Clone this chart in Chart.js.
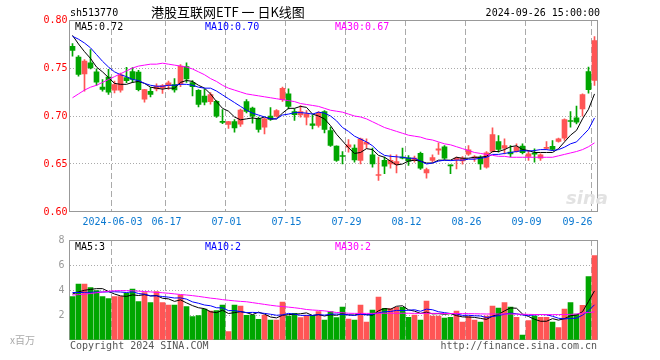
<!DOCTYPE html>
<html><head><meta charset="utf-8">
<script src="https://cdn.jsdelivr.net/npm/chart.js@4.4.0/dist/chart.umd.min.js"></script>
<style>
html,body{margin:0;padding:0;background:#fff;}
#wrap{position:relative;width:660px;height:360px;overflow:hidden;font-family:"DejaVu Sans Mono",monospace;font-size:10px;color:#000;}
canvas{position:absolute;left:0;top:0;}
.t{position:absolute;white-space:pre;line-height:12px;}
</style></head><body>
<div id="wrap">
<canvas id="pc" width="660" height="360"></canvas>
<canvas id="vc" width="660" height="360"></canvas>
<div class="t" style="left:70px;top:7px;">sh513770</div>
<div class="t" style="left:151px;top:4px;font-family:'Noto Sans CJK SC';font-size:13px;line-height:16px;">港股互联网ETF 一 日K线图</div>
<div class="t" style="right:60px;top:7px;">2024-09-26 15:00:00</div>
<div class="t" style="left:75px;top:21px;">MA5:0.72</div>
<div class="t" style="left:205px;top:21px;color:#0000ff;">MA10:0.70</div>
<div class="t" style="left:335px;top:21px;color:#ff00ff;">MA30:0.67</div>
<div class="t" style="left:75px;top:241px;">MA5:3</div>
<div class="t" style="left:205px;top:241px;color:#0000ff;">MA10:2</div>
<div class="t" style="left:335px;top:241px;color:#ff00ff;">MA30:2</div>
<div class="t" style="left:70px;top:340px;color:#555;">Copyright 2024 SINA.COM</div>
<div class="t" style="right:63px;top:340px;color:#555;">http://finance.sina.com.cn</div>
<div class="t" style="left:10px;top:334px;color:#aaa;font-family:'Noto Sans CJK SC';">x百万</div>
<div class="t" style="left:566px;top:188px;color:#e2e2e2;font-family:'DejaVu Sans';font-size:18px;font-weight:bold;font-style:italic;line-height:20px;">sina</div>
</div>
<script>
const categories = ['05-23','05-24','05-27','05-28','05-29','05-30','05-31',
'06-03','06-04','06-05','06-06','06-07','06-11','06-12','06-13','06-14','06-17','06-18','06-19','06-20','06-21','06-24','06-25','06-26','06-27','06-28',
'07-01','07-02','07-03','07-04','07-05','07-08','07-09','07-10','07-11','07-12','07-15','07-16','07-17','07-18','07-19','07-22','07-23','07-24','07-25','07-26','07-29','07-30','07-31',
'08-01','08-02','08-05','08-06','08-07','08-08','08-09','08-12','08-13','08-14','08-15','08-16','08-19','08-20','08-21','08-22','08-23','08-26','08-27','08-28','08-29','08-30',
'09-02','09-03','09-04','09-05','09-06','09-09','09-10','09-11','09-12','09-13','09-18','09-19','09-20','09-23','09-24','09-25','09-26'];

const opens = [0.7727,0.7613,0.7439,0.7554,0.7460,0.7300,0.7405,0.7269,0.7268,0.7400,
0.7464,0.7458,0.7175,0.7256,0.7283,0.7293,0.7318,0.7326,0.7337,0.7515,
0.7347,0.7268,0.7207,0.7150,0.7153,0.6943,0.6913,0.6941,0.6915,0.7151,
0.7082,0.6970,0.6884,0.6998,0.6998,0.7170,0.7231,0.7045,0.7012,0.6988,
0.6918,0.6901,0.7047,0.6849,0.6686,0.6582,0.6675,0.6665,0.6536,0.6707,
0.6596,0.6380,0.6537,0.6502,0.6492,0.6571,0.6564,0.6537,0.6610,0.6408,
0.6537,0.6644,0.6679,0.6485,0.6544,0.6533,0.6603,0.6561,0.6571,0.6467,
0.6630,0.6734,0.6665,0.6624,0.6630,0.6686,0.6578,0.6606,0.6561,0.6662,
0.6683,0.6734,0.6769,0.6946,0.6981,0.7075,0.7464,0.7370];
const highs = [0.7755,0.7630,0.7589,0.7693,0.7491,0.7380,0.7487,0.7365,0.7447,0.7508,
0.7505,0.7475,0.7278,0.7296,0.7335,0.7328,0.7363,0.7390,0.7535,0.7555,
0.7370,0.7275,0.7280,0.7245,0.7160,0.7068,0.6945,0.6963,0.7072,0.7172,
0.7092,0.6988,0.6977,0.7089,0.7068,0.7300,0.7283,0.7075,0.7109,0.7057,
0.7012,0.7047,0.7057,0.6884,0.6690,0.6630,0.6755,0.6700,0.6769,0.6762,
0.6665,0.6571,0.6571,0.6596,0.6596,0.6665,0.6589,0.6582,0.6623,0.6457,
0.6596,0.6721,0.6693,0.6492,0.6571,0.6578,0.6693,0.6589,0.6585,0.6630,
0.6877,0.6797,0.6762,0.6693,0.6710,0.6710,0.6641,0.6658,0.6606,0.6734,
0.6745,0.6769,0.6970,0.7047,0.7103,0.7231,0.7509,0.7828];
const lows = [0.7623,0.7415,0.7259,0.7491,0.7318,0.7259,0.7224,0.7241,0.7248,0.7348,
0.7348,0.7261,0.7144,0.7198,0.7262,0.7235,0.7276,0.7248,0.7305,0.7350,
0.7210,0.7094,0.7115,0.7123,0.6985,0.6920,0.6870,0.6832,0.6891,0.7033,
0.6925,0.6832,0.6814,0.6953,0.6988,0.7151,0.7075,0.6955,0.6988,0.6908,
0.6866,0.6884,0.6825,0.6682,0.6526,0.6502,0.6623,0.6519,0.6502,0.6665,
0.6467,0.6328,0.6398,0.6457,0.6408,0.6554,0.6485,0.6520,0.6443,0.6353,
0.6519,0.6599,0.6547,0.6398,0.6450,0.6498,0.6589,0.6526,0.6443,0.6457,
0.6623,0.6623,0.6606,0.6575,0.6623,0.6606,0.6537,0.6519,0.6537,0.6651,
0.6641,0.6728,0.6745,0.6884,0.6918,0.6998,0.7238,0.7318];
const closes = [0.7682,0.7432,0.7571,0.7502,0.7352,0.7278,0.7248,0.7326,0.7430,0.7369,
0.7382,0.7275,0.7275,0.7224,0.7311,0.7318,0.7345,0.7271,0.7519,0.7385,
0.7305,0.7120,0.7144,0.7224,0.6998,0.6933,0.6941,0.6875,0.7062,0.7047,
0.6998,0.6859,0.6970,0.6964,0.7057,0.7288,0.7099,0.7015,0.7047,0.7023,
0.6901,0.7033,0.6859,0.6693,0.6537,0.6578,0.6700,0.6543,0.6762,0.6727,
0.6502,0.6391,0.6478,0.6537,0.6526,0.6561,0.6529,0.6561,0.6457,0.6443,
0.6568,0.6658,0.6561,0.6481,0.6561,0.6561,0.6648,0.6575,0.6502,0.6617,
0.6807,0.6651,0.6693,0.6606,0.6675,0.6617,0.6606,0.6603,0.6596,0.6665,
0.6651,0.6762,0.6964,0.6943,0.6936,0.7224,0.7273,0.7786];

const ma5 = [.784,.775,.767,.760,.751,.746,.740,.734,.733,.733,
.735,.736,.734,.730,.729,.728,.729,.729,.735,.737,
.736,.732,.729,.723,.715,.708,.705,.699,.696,.697,
.698,.697,.699,.697,.697,.703,.708,.708,.710,.709,
.702,.700,.697,.690,.681,.674,.667,.661,.662,.666,
.665,.659,.657,.653,.649,.650,.653,.654,.653,.651,
.651,.654,.654,.654,.657,.656,.656,.657,.657,.658,
.663,.663,.665,.668,.669,.665,.664,.662,.662,.662,
.662,.666,.673,.680,.685,.697,.707,.723];
const ma10 = [.783,.780,.776,.771,.764,.757,.751,.746,.743,.741,
.738,.737,.734,.732,.731,.731,.732,.732,.733,.733,
.732,.730,.729,.729,.726,.722,.718,.714,.710,.706,
.703,.701,.699,.697,.697,.701,.702,.7035,.7035,.703,
.702,.704,.703,.700,.695,.688,.684,.679,.676,.673,
.669,.663,.659,.658,.6575,.657,.656,.656,.653,.650,
.651,.653,.654,.6535,.654,.654,.655,.655,.656,.657,
.660,.660,.661,.662,.663,.664,.6635,.664,.665,.665,
.664,.665,.6675,.671,.673,.6795,.686,.698];
const ma30 = [.719,.723,.727,.730,.732,.735,.738,.741,.744,.747,
.750,.752,.753,.754,.754,.755,.754,.753,.752,.751,
.749,.746,.743,.739,.736,.732,.729,.727,.725,.723,
.722,.721,.720,.719,.718,.717,.716,.715,.713,.712,
.711,.710,.708,.706,.705,.704,.702,.700,.699,.697,
.694,.691,.688,.686,.684,.682,.680,.679,.678,.676,
.675,.673,.671,.670,.668,.666,.664,.662,.661,.660,
.659,.658,.658,.657,.657,.657,.657,.657,.657,.657,
.657,.6585,.660,.6615,.663,.665,.668,.672];

const volumes = [3.47,4.48,4.48,4.19,3.95,3.47,3.31,3.47,3.47,3.73,
4.08,3.07,3.79,2.99,3.87,2.99,2.80,2.80,3.60,2.67,
1.87,1.95,2.48,2.32,2.35,2.80,0.67,2.80,2.72,1.97,
2.00,1.65,2.00,1.60,1.60,3.04,1.92,2.13,1.79,1.97,
1.97,2.27,1.60,2.27,1.79,2.64,1.68,1.60,2.80,1.44,
2.40,3.44,2.53,2.51,2.61,2.61,1.81,2.00,1.60,3.12,
1.92,1.92,1.76,1.81,2.32,1.44,1.87,1.60,1.44,1.92,
2.72,2.56,2.99,2.64,1.81,0.40,1.55,1.92,1.81,1.81,
1.44,0.99,2.48,2.99,2.08,2.77,5.07,6.75];
const volMa5 = [3.68,3.85,3.98,4.05,4.11,4.11,3.88,3.68,3.53,3.49,
3.61,3.56,3.63,3.53,3.56,3.34,3.29,3.09,3.21,2.97,
2.75,2.58,2.51,2.26,2.19,2.38,2.12,2.19,2.27,2.19,
2.03,2.23,2.07,1.84,1.77,1.98,2.03,2.06,2.10,2.17,
1.96,2.03,1.92,2.02,1.98,2.11,2.00,2.00,2.10,2.03,
1.98,2.34,2.52,2.46,2.70,2.74,2.41,2.31,2.13,2.23,
2.09,2.11,2.06,2.11,1.95,1.85,1.84,1.81,1.73,1.65,
1.91,2.05,2.33,2.57,2.54,2.08,1.88,1.66,1.50,1.50,
1.71,1.59,1.71,1.94,2.00,2.26,3.08,3.93];
const volMa10 = [3.80,3.80,3.81,3.82,3.83,3.84,3.85,3.86,3.84,3.80,
3.86,3.72,3.66,3.53,3.53,3.48,3.43,3.36,3.37,3.27,
3.05,2.94,2.80,2.74,2.58,2.57,2.35,2.35,2.27,2.19,
2.21,2.18,2.13,2.06,1.98,2.01,2.13,2.07,1.97,1.97,
1.97,2.03,1.99,2.06,2.08,2.04,2.02,1.96,2.06,2.01,
2.05,2.17,2.26,2.28,2.37,2.36,2.38,2.42,2.30,2.47,
2.42,2.26,2.19,2.12,2.09,1.97,1.98,1.94,1.92,1.80,
1.88,1.95,2.07,2.15,2.10,2.00,1.97,2.00,2.04,2.02,
1.90,1.74,1.69,1.72,1.75,1.99,2.34,2.82];
const volMa30 = [3.60,3.63,3.67,3.72,3.78,3.84,3.90,3.94,3.95,3.95,
3.94,3.91,3.88,3.85,3.81,3.78,3.74,3.69,3.64,3.60,
3.55,3.49,3.42,3.35,3.30,3.23,3.18,3.13,3.09,3.06,
2.99,2.92,2.85,2.78,2.72,2.68,2.63,2.58,2.52,2.44,
2.40,2.37,2.33,2.27,2.20,2.18,2.14,2.13,2.13,2.13,
2.13,2.14,2.14,2.14,2.14,2.14,2.14,2.13,2.13,2.14,
2.13,2.13,2.12,2.12,2.12,2.11,2.11,2.10,2.09,2.08,
2.08,2.08,2.08,2.08,2.07,2.06,2.05,2.04,2.04,2.03,
2.03,2.03,2.04,2.05,2.08,2.15,2.20,2.25];

const priceTicks = [0.60, 0.65, 0.70, 0.75, 0.80];
const priceTickLabels = ['0.60', '0.65', '0.70', '0.75', '0.80'];
const volTicks = [0, 2, 4, 6, 8];
const volTickLabels = ['', '2', '4', '6', '8'];
const xTickDates = ['06-03','06-17','07-01','07-15','07-29','08-12','08-26','09-09','09-26'];
const xTickLabels = ['2024-06-03','06-17','07-01','07-15','07-29','08-12','08-26','09-09','09-26     '];

const UP = '#ff5555', DOWN = '#00a600';
const GRID = '#aaaaaa';
const dirColors = closes.map((c, i) => c >= opens[i] ? UP : DOWN);
const mono = { family: 'DejaVu Sans Mono', size: 10 };

const boxPlugin = {
  id: 'box',
  beforeDatasetsDraw(chart) {
    const { ctx, chartArea: a } = chart;
    ctx.save();
    ctx.strokeStyle = '#999';
    ctx.lineWidth = 1;
    ctx.setLineDash([]);
    ctx.strokeRect(Math.floor(a.left) + 0.5, Math.floor(a.top) + 0.5,
      Math.round(a.right - a.left), Math.round(a.bottom - a.top) - 1);
    ctx.restore();
  }
};

function xScale(showLabels, h) {
  return {
    type: 'category',
    offset: true,
    grid: {
      offset: true,
      drawTicks: false,
      lineWidth: 1,
      color: (c) => (xTickDates.indexOf(categories[c.index]) >= 0 ? GRID : 'rgba(0,0,0,0)')
    },
    border: { display: false, dash: [6, 3] },
    ticks: {
      display: showLabels,
      autoSkip: false,
      maxRotation: 0,
      minRotation: 0,
      padding: 4,
      labelOffset: -2,
      color: '#0a78d0',
      font: mono,
      callback: (v, i) => {
        const k = xTickDates.indexOf(categories[i]);
        return k >= 0 ? xTickLabels[k] : '';
      }
    },
    afterFit: (s) => { s.height = h; }
  };
}

function yScale(tickVals, tickLabels, min, max, color, pad) {
  return {
    min: min, max: max,
    afterBuildTicks: (s) => { s.ticks = tickVals.map(v => ({ value: v })); },
    afterFit: (s) => { s.width = 69.5; },
    grid: {
      drawTicks: false,
      lineWidth: 1,
      color: (c) => (c.index === 0 || c.index === tickVals.length - 1) ? 'rgba(0,0,0,0)' : GRID
    },
    border: { display: false, dash: [1, 2] },
    ticks: {
      padding: pad,
      color: color,
      font: mono,
      callback: (v, i) => tickLabels[i]
    }
  };
}

const lineDs = (data, color) => ({
  type: 'line', data: data, borderColor: color, borderWidth: 1,
  pointRadius: 0, tension: 0, fill: false, order: 0
});

new Chart(document.getElementById('pc'), {
  data: {
    labels: categories,
    datasets: [
      { type: 'bar', data: lows.map((l, i) => [l, highs[i]]), backgroundColor: dirColors,
        barThickness: 1, grouped: false, order: 3 },
      { type: 'bar', data: opens.map((o, i) => [Math.min(o, closes[i]), Math.max(o, closes[i])]),
        backgroundColor: dirColors, barThickness: 5, minBarLength: 1, grouped: false, order: 2 },
      lineDs(ma30, '#ff00ff'),
      lineDs(ma10, '#0000ff'),
      lineDs(ma5, '#000000')
    ]
  },
  options: {
    responsive: false, animation: false, devicePixelRatio: 1,
    layout: { padding: { left: 0, right: 62.5, top: 20, bottom: 128 } },
    plugins: { legend: { display: false }, tooltip: { enabled: false } },
    scales: {
      x: xScale(true, 20),
      y: yScale(priceTicks, priceTickLabels, 0.60, 0.80, '#ff0000', 2)
    }
  },
  plugins: [boxPlugin]
});

new Chart(document.getElementById('vc'), {
  data: {
    labels: categories,
    datasets: [
      { type: 'bar', data: volumes, backgroundColor: dirColors, barThickness: 5, order: 2 },
      lineDs(volMa30, '#ff00ff'),
      lineDs(volMa10, '#0000ff'),
      lineDs(volMa5, '#000000')
    ]
  },
  options: {
    responsive: false, animation: false, devicePixelRatio: 1,
    layout: { padding: { left: 0, right: 62.5, top: 240, bottom: 20 } },
    plugins: { legend: { display: false }, tooltip: { enabled: false } },
    scales: {
      x: xScale(false, 0),
      y: yScale(volTicks, volTickLabels, 0, 8, '#999999', 5)
    }
  },
  plugins: [boxPlugin]
});
</script>
</body></html>
